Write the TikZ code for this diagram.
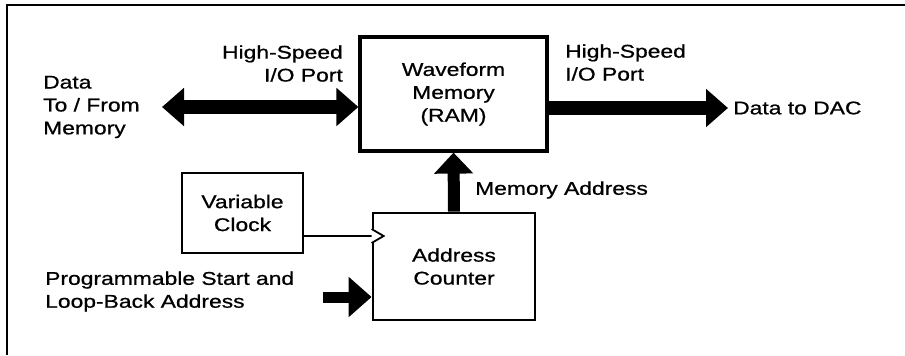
\documentclass[tikz,border=0pt]{standalone}
\usepackage{fontspec}
\setmainfont{Liberation Sans}[FakeStretch=1.24, FakeBold=0.8]
\usetikzlibrary{arrows.meta}
\tikzset{
  block/.style={draw, line width=2.8bp, fill=white, align=center, inner sep=0pt},
  lbl/.style={inner sep=0pt},
  bus/.style={line width=14bp, -{Triangle[length=22bp,width=37bp]}},
  dbus/.style={line width=14bp, {Triangle[length=22bp,width=37bp]}-{Triangle[length=22bp,width=37bp]}},
  thin wire/.style={line width=1.8bp},
}
\begin{document}
\begin{tikzpicture}[x=1bp, y=-1bp,
  font=\fontsize{18.5}{23}\selectfont]
\useasboundingbox (0,0) rectangle (905,355);
% frame
\draw[line width=2.2bp] (7,355) -- (7,5) -- (905,5);

% blocks
\node[block, line width=3.2bp, minimum width=187bp, minimum height=114bp] (mem) at (453.5,94)
  {Waveform\\Memory\\(RAM)};
\node[block, minimum width=162bp, minimum height=107bp] (cnt) at (454,266.5)
  {Address\\Counter};
\node[block, minimum width=121bp, minimum height=80bp] (clk) at (242.5,213)
  {Variable\\Clock};

% labels
\node[lbl, align=right, anchor=east] (hsl) at (343,63.5) {High-Speed\\I/O Port};
\node[lbl, align=left, anchor=west] (hsr) at (565,62.5) {High-Speed\\I/O Port};
\node[lbl, align=left, anchor=west] (host) at (43,107) {Data\\To / From\\Memory};
\node[lbl, anchor=west] (dac) at (733,108) {Data to DAC};
\node[lbl, anchor=west] (madr) at (475,190) {Memory Address};
\node[lbl, align=left, anchor=west] (prog) at (45,291.5) {Programmable Start and\\Loop-Back Address};

% connectors
\coordinate (dl) at (162,107);
\draw[dbus] (dl) -- (dl -| mem.west);
\draw[bus] (mem.east |- dac.west) -- ([xshift=-5bp]dac.west);
\draw[bus, line width=12bp, -{Triangle[length=21bp,width=38bp]}] (cnt.north) -- (mem.south);

\coordinate (ck) at ([yshift=30.5bp]cnt.west);
\draw[thin wire] (clk.east |- ck) -- (ck);
\draw[thin wire, fill=white] ([yshift=7bp]ck) -- ++(12,7) -- ([yshift=-7bp]ck);

\coordinate (pa) at (323,297);
\draw[line width=11bp, -{Triangle[length=23bp,width=39bp]}] (pa) -- (pa -| cnt.west);
\end{tikzpicture}
\end{document}
